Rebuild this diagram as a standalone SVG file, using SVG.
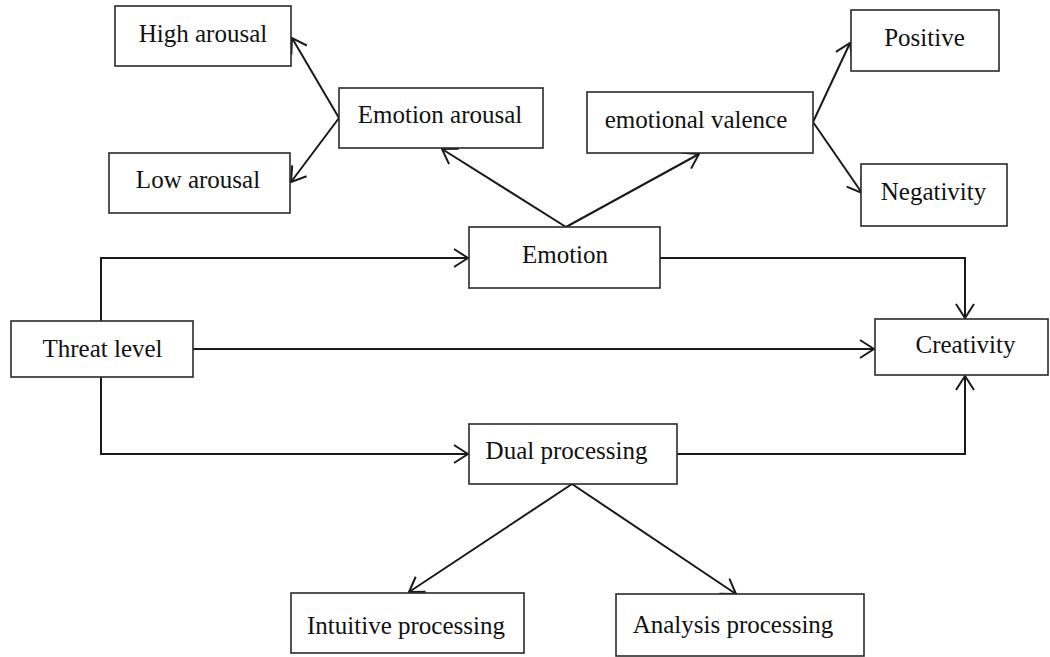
<svg xmlns="http://www.w3.org/2000/svg" width="1050" height="657" viewBox="0 0 1050 657">
<style>
.box{fill:#fff;stroke:#2a2a2a;stroke-width:1.6}
.lbl{font-family:"Liberation Serif","Times New Roman",serif;font-size:25px;fill:#111;text-anchor:middle}
.con{fill:none;stroke:#1a1a1a;stroke-width:2;marker-end:url(#arr)}
</style>
<defs>
<marker id="arr" viewBox="0 0 16 20" refX="15" refY="10" markerWidth="16" markerHeight="20" markerUnits="userSpaceOnUse" orient="auto">
<path d="M1,1 L15,10 L1,19" fill="none" stroke="#1a1a1a" stroke-width="2"/>
</marker>
</defs>
<rect width="1050" height="657" fill="#fff"/>
<g id="connectors">
<line class="con" x1="339" y1="118" x2="292" y2="38"/>
<line class="con" x1="339" y1="118" x2="291" y2="182"/>
<line class="con" x1="813" y1="122" x2="850" y2="43"/>
<line class="con" x1="813" y1="122" x2="862" y2="193"/>
<line class="con" x1="566" y1="227" x2="442" y2="149"/>
<line class="con" x1="566" y1="227" x2="699" y2="154"/>
<polyline class="con" points="101,321 101,258 468,258"/>
<line class="con" x1="193" y1="349" x2="874" y2="349"/>
<polyline class="con" points="101,377 101,454 468,454"/>
<polyline class="con" points="660,258 965,258 965,318"/>
<polyline class="con" points="677,454 965,454 965,376"/>
<line class="con" x1="572" y1="484" x2="409" y2="592"/>
<line class="con" x1="572" y1="484" x2="736" y2="594"/>
</g>
<g id="high-arousal"><rect class="box" x="115" y="6" width="176" height="60"/><text class="lbl" x="203" y="42">High arousal</text></g>
<g id="emotion-arousal"><rect class="box" x="339" y="88" width="204" height="60"/><text class="lbl" x="440" y="123">Emotion arousal</text></g>
<g id="low-arousal"><rect class="box" x="109" y="153" width="181" height="60"/><text class="lbl" x="198" y="188">Low arousal</text></g>
<g id="emotional-valence"><rect class="box" x="587" y="92" width="226" height="61"/><text class="lbl" x="696" y="128">emotional valence</text></g>
<g id="positive"><rect class="box" x="851" y="10" width="148" height="61"/><text class="lbl" x="924.5" y="46">Positive</text></g>
<g id="negativity"><rect class="box" x="861" y="164" width="146" height="62"/><text class="lbl" x="933.5" y="200">Negativity</text></g>
<g id="emotion"><rect class="box" x="469" y="227" width="191" height="61"/><text class="lbl" x="565" y="263">Emotion</text></g>
<g id="threat-level"><rect class="box" x="11" y="321" width="182" height="56"/><text class="lbl" x="102.5" y="357">Threat level</text></g>
<g id="creativity"><rect class="box" x="875" y="319" width="173" height="56"/><text class="lbl" x="965.5" y="353">Creativity</text></g>
<g id="dual-processing"><rect class="box" x="469" y="424" width="208" height="60"/><text class="lbl" x="566.5" y="459">Dual processing</text></g>
<g id="intuitive-processing"><rect class="box" x="291" y="593" width="233" height="60"/><text class="lbl" x="406" y="634">Intuitive processing</text></g>
<g id="analysis-processing"><rect class="box" x="616" y="594" width="248" height="62"/><text class="lbl" x="733" y="633">Analysis processing</text></g>
</svg>
